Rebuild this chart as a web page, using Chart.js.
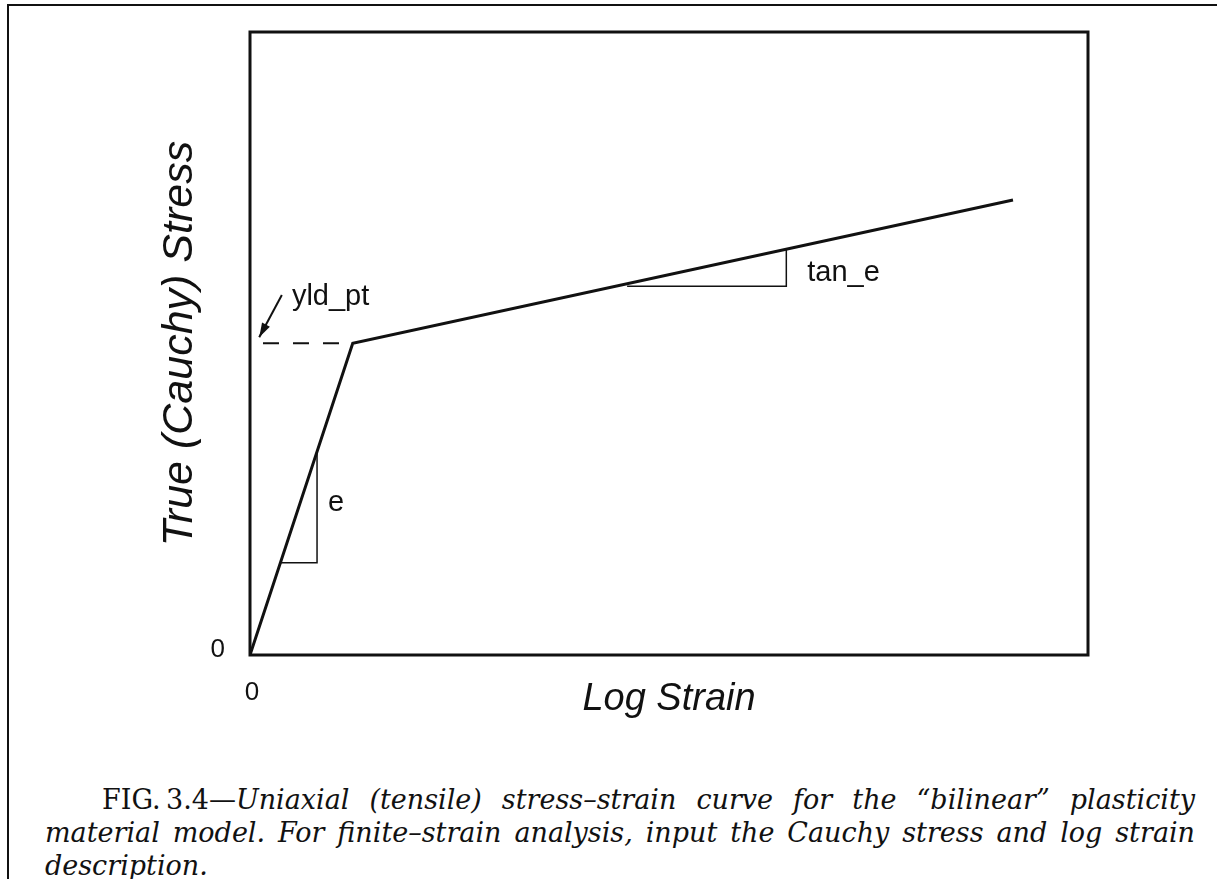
<!DOCTYPE html>
<html>
<head>
<meta charset="utf-8">
<title>Bilinear plasticity</title>
<script src="https://cdn.jsdelivr.net/npm/chart.js@4.4.0/dist/chart.umd.min.js"></script>
<style>
  body { margin: 0; background: #fff; }
  #page { position: relative; width: 1217px; height: 879px; overflow: hidden; }
  #frame { position: absolute; left: 7px; top: 4px; right: -10px; bottom: -10px;
           border-left: 2px solid #111; border-top: 2px solid #111; }
  #chart { position: absolute; left: 0; top: 0; }
  #caption { position: absolute; left: 45px; top: 783px; width: 1150px; color: #111;
             font: italic 27px "DejaVu Serif", serif; line-height: 33px; }
  .line { white-space: nowrap; text-align: justify; text-align-last: justify; }
  .first { padding-left: 57px; }
  .last { text-align-last: left; }
  .fig { font-style: normal; }
</style>
</head>
<body>
<div id="page">
  <div id="frame"></div>
  <canvas id="chart" width="1217" height="740"></canvas>
  <div id="caption">
    <div class="line first"><span class="fig">FIG.&#8201;3.4—</span>Uniaxial (tensile) stress–strain curve for the “bilinear” plasticity</div>
    <div class="line">material model. For finite–strain analysis, input the Cauchy stress and log strain</div>
    <div class="line last">description.</div>
  </div>
</div>
<script>
// values (arbitrary units, axes 0..10)
const strain = [0, 1.226, 9.105];
const stress = [0, 5.003, 7.303];

const yieldStrain = [0.155, 1.226];
const yieldStress = [5.003, 5.003];

const eStrain = [0.37, 0.80, 0.80];
const eStress = [1.48, 1.48, 3.25];

const tanStrain = [4.50, 6.40, 6.40];
const tanStress = [5.92, 5.92, 6.52];

const arrowStrain = [0.38, 0.11];
const arrowStress = [5.78, 5.10];

const xTicks = [0];
const yTicks = [0];

const notes = [
    { text: "yld_pt", x: 0.50, y: 5.62 },
    { text: "e", x: 0.93, y: 2.31 },
    { text: "tan_e", x: 6.65, y: 6.00 }
];

const ink = "#111";

function pts(xs, ys) {
    return xs.map((x, i) => ({ x, y: ys[i] }));
}

function seg(data, width, dash) {
    return {
        data,
        borderColor: ink,
        borderWidth: width,
        borderDash: dash || [],
        pointRadius: 0,
        fill: false,
        tension: 0
    };
}

// frame, arrow head and the little text notes
const sketch = {
    id: "sketch",
    afterDatasetsDraw(chart) {
        const { ctx, chartArea: a, scales: { x, y } } = chart;
        ctx.save();
        ctx.strokeStyle = ink;
        ctx.lineWidth = 3;
        ctx.strokeRect(a.left, a.top, a.right - a.left, a.bottom - a.top);

        const n = arrowStrain.length;
        const x1 = x.getPixelForValue(arrowStrain[n - 2]);
        const y1 = y.getPixelForValue(arrowStress[n - 2]);
        const x2 = x.getPixelForValue(arrowStrain[n - 1]);
        const y2 = y.getPixelForValue(arrowStress[n - 1]);
        const ang = Math.atan2(y2 - y1, x2 - x1);
        ctx.fillStyle = ink;
        ctx.beginPath();
        ctx.moveTo(x2, y2);
        ctx.lineTo(x2 - 15 * Math.cos(ang - 0.3), y2 - 15 * Math.sin(ang - 0.3));
        ctx.lineTo(x2 - 15 * Math.cos(ang + 0.3), y2 - 15 * Math.sin(ang + 0.3));
        ctx.closePath();
        ctx.fill();

        ctx.font = '29px "Liberation Sans", Arial, sans-serif';
        ctx.textAlign = "left";
        ctx.textBaseline = "alphabetic";
        notes.forEach(nt => {
            ctx.fillText(nt.text, x.getPixelForValue(nt.x), y.getPixelForValue(nt.y));
        });
        ctx.restore();
    }
};

const ctx = document.getElementById("chart").getContext("2d");
const chart = new Chart(ctx, {
    type: "line",
    data: {
        datasets: [
            seg(pts(strain, stress), 3),
            seg(pts(yieldStrain, yieldStress), 2, [16, 14]),
            seg(pts(eStrain, eStress), 1.5),
            seg(pts(tanStrain, tanStress), 1.5),
            seg(pts(arrowStrain, arrowStress), 2)
        ]
    },
    options: {
        responsive: false,
        animation: false,
        layout: { padding: { left: 150, top: 32, right: 129, bottom: 0 } },
        plugins: { legend: { display: false }, tooltip: { enabled: false } },
        scales: {
            x: {
                type: "linear",
                min: 0,
                max: 10,
                grid: { display: false, drawTicks: false },
                border: { display: false },
                afterBuildTicks: s => { s.ticks = xTicks.map(v => ({ value: v })); },
                afterFit: s => { s.height = 85; s.paddingLeft = 0; s.paddingRight = 0; },
                ticks: {
                    color: ink,
                    padding: 22,
                    labelOffset: 2,
                    maxRotation: 0,
                    font: { family: '"Liberation Sans", Arial, sans-serif', size: 26 }
                },
                title: {
                    display: true,
                    text: "Log Strain",
                    color: ink,
                    align: "center",
                    padding: { top: 0, bottom: 18 },
                    font: { family: '"Liberation Sans", Arial, sans-serif', size: 38, style: "italic" }
                }
            },
            y: {
                type: "linear",
                min: 0,
                max: 10,
                grid: { display: false, drawTicks: false },
                border: { display: false },
                afterBuildTicks: s => { s.ticks = yTicks.map(v => ({ value: v })); },
                afterFit: s => { s.width = 100; s.paddingTop = 0; s.paddingBottom = 0; },
                ticks: {
                    color: ink,
                    padding: 25,
                    labelOffset: -5,
                    font: { family: '"Liberation Sans", Arial, sans-serif', size: 26 }
                },
                title: {
                    display: true,
                    text: "True (Cauchy) Stress",
                    color: ink,
                    padding: { top: 4, bottom: 0 },
                    font: { family: '"Liberation Sans", Arial, sans-serif', size: 43, style: "italic" }
                }
            }
        }
    },
    plugins: [sketch]
});
</script>
</body>
</html>
